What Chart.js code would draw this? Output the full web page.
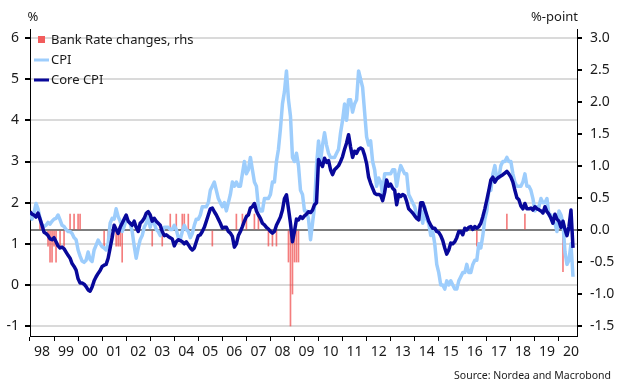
<!DOCTYPE html>
<html>
<head>
<meta charset="utf-8">
<script src="https://cdn.jsdelivr.net/npm/chart.js@4.4.1/dist/chart.umd.min.js"></script>
<style>
  html, body { margin: 0; padding: 0; background: #fff; }
</style>
</head>
<body>
<canvas id="c" width="620" height="392"></canvas>
<script>
// UK inflation vs Bank Rate changes — monthly, Jan 1998 onwards

const yearLabels = ['98', '99', '00', '01', '02', '03', '04', '05', '06', '07', '08',
  '09', '10', '11', '12', '13', '14', '15', '16', '17', '18', '19', '20'];
const leftTicks = [-1, 0, 1, 2, 3, 4, 5, 6];
const rightTicks = [-1.5, -1.0, -0.5, 0.0, 0.5, 1.0, 1.5, 2.0, 2.5, 3.0];

// CPI, % y/y, one value per month from Jan 1998
const cpi = [
  1.75, 1.6, 1.75, 1.98, 1.85, 1.62, 1.45, 1.42, 1.45, 1.52, 1.48, 1.55, // 98
  1.6, 1.62, 1.7, 1.58, 1.45, 1.42, 1.35, 1.3, 1.3, 1.25, 1.15, 1.1,     // 99
  0.85, 0.7, 0.58, 0.55, 0.6, 0.8, 0.62, 0.57, 0.85, 0.97, 1.09, 1.0,    // 00
  0.93, 0.9, 0.85, 1.0, 1.5, 1.62, 1.6, 1.85, 1.66, 1.55, 1.3, 1.42,     // 01
  1.6, 1.55, 1.5, 1.3, 0.95, 0.65, 0.9, 1.1, 1.2, 1.4, 1.5, 1.65,        // 02
  1.4, 1.6, 1.5, 1.35, 1.3, 1.2, 1.3, 1.4, 1.4, 1.4, 1.35, 1.35,         // 03
  1.45, 1.35, 1.15, 1.1, 1.3, 1.45, 1.35, 1.3, 1.15, 1.25, 1.45, 1.6,    // 04
  1.6, 1.7, 1.9, 1.9, 1.9, 2.0, 2.3, 2.4, 2.5, 2.3, 2.1, 2.0,            // 05
  1.9, 2.0, 1.8, 2.0, 2.2, 2.5, 2.4, 2.5, 2.4, 2.4, 2.7, 3.0,            // 06
  2.7, 2.8, 3.1, 2.8, 2.5, 2.4, 1.9, 1.8, 1.8, 2.1, 2.1, 2.1,            // 07
  2.2, 2.5, 2.5, 3.0, 3.3, 3.8, 4.4, 4.7, 5.2, 4.5, 4.1, 3.1,            // 08
  3.0, 3.2, 2.9, 2.3, 2.2, 1.8, 1.8, 1.6, 1.1, 1.5, 1.9, 2.9,            // 09
  3.5, 3.0, 3.4, 3.7, 3.4, 3.2, 3.1, 3.1, 3.1, 3.2, 3.3, 3.7,            // 10
  4.0, 4.4, 4.0, 4.5, 4.5, 4.2, 4.4, 4.5, 5.2, 5.0, 4.8, 4.2,            // 11
  3.6, 3.4, 3.5, 3.0, 2.8, 2.4, 2.6, 2.5, 2.2, 2.7, 2.7, 2.7,            // 12
  2.7, 2.8, 2.8, 2.4, 2.7, 2.9, 2.8, 2.7, 2.7, 2.2, 2.1, 2.0,            // 13
  1.9, 1.7, 1.6, 1.8, 1.5, 1.9, 1.6, 1.5, 1.2, 1.3, 1.0, 0.5,            // 14
  0.3, 0.0, 0.0, -0.1, 0.1, 0.0, 0.1, 0.0, -0.1, -0.1, 0.1, 0.2,         // 15
  0.3, 0.3, 0.5, 0.3, 0.3, 0.5, 0.6, 0.6, 1.0, 0.9, 1.2, 1.6,            // 16
  1.8, 2.3, 2.3, 2.7, 2.9, 2.6, 2.6, 2.9, 3.0, 3.0, 3.1, 3.0,            // 17
  3.0, 2.7, 2.5, 2.4, 2.4, 2.4, 2.5, 2.7, 2.4, 2.4, 2.3, 2.1,            // 18
  1.8, 1.9, 1.9, 2.1, 2.0, 2.0, 2.1, 1.7, 1.7, 1.5, 1.5, 1.3,            // 19
  1.8, 1.7, 1.5, 0.8, 0.5, 0.6, 1.0, 0.2,                                // 20
];

// Core CPI, % y/y, same months
const coreCpi = [
  1.78, 1.72, 1.7, 1.65, 1.75, 1.6, 1.45, 1.28, 1.25, 1.2, 1.12, 1.1,
  1.15, 1.05, 0.95, 0.9, 0.92, 0.88, 0.8, 0.72, 0.65, 0.52, 0.45, 0.36,
  0.15, 0.05, 0.05, 0.02, -0.04, -0.12, -0.15, -0.05, 0.1, 0.2, 0.28, 0.35,
  0.45, 0.48, 0.5, 0.65, 0.9, 1.15, 1.45, 1.35, 1.25, 1.4, 1.5, 1.6,
  1.7, 1.55, 1.5, 1.45, 1.55, 1.4, 1.3, 1.5, 1.55, 1.62, 1.74, 1.78,
  1.7, 1.55, 1.62, 1.55, 1.5, 1.45, 1.3, 1.2, 1.22, 1.18, 1.15, 1.12,
  0.95, 1.05, 1.1, 1.08, 1.05, 1.0, 1.05, 0.98, 0.9, 0.85, 0.9, 1.05,
  1.2, 1.22, 1.3, 1.4, 1.55, 1.7, 1.85, 1.87, 1.78, 1.7, 1.6, 1.5,
  1.38, 1.4, 1.4, 1.3, 1.26, 1.18, 0.92, 1.0, 1.2, 1.3, 1.42, 1.55,
  1.66, 1.7, 1.87, 1.9, 1.98, 1.8, 1.7, 1.62, 1.5, 1.46, 1.4, 1.36,
  1.3, 1.26, 1.3, 1.45, 1.55, 1.65, 1.82, 2.1, 2.19, 1.85, 1.5, 1.05,
  1.3, 1.6, 1.58, 1.66, 1.62, 1.68, 1.72, 1.78, 1.76, 1.82, 1.95, 2.0,
  3.05, 2.95, 2.88, 3.08, 2.98, 3.02, 2.8, 2.68, 2.8, 2.85, 2.9, 3.0,
  3.12, 3.3, 3.45, 3.65, 3.35, 3.1, 3.25, 3.2, 3.3, 3.33, 3.3, 3.15,
  2.95, 2.62, 2.47, 2.35, 2.23, 2.2, 2.2, 2.18, 2.05, 2.25, 2.55, 2.4,
  2.45, 2.35, 2.3, 1.95, 2.2, 2.15, 2.2, 2.17, 2.03, 1.85, 1.8, 1.75,
  1.68, 1.62, 1.58, 2.0, 2.0, 1.85, 1.7, 1.55, 1.45, 1.38, 1.38, 1.3,
  1.28, 1.2, 1.08, 0.9, 0.75, 0.85, 1.02, 1.0, 1.05, 1.15, 1.3, 1.3,
  1.22, 1.38, 1.34, 1.4, 1.42, 1.35, 1.42, 1.38, 1.42, 1.5, 1.66, 1.85,
  2.07, 2.3, 2.55, 2.62, 2.5, 2.58, 2.62, 2.65, 2.68, 2.72, 2.76, 2.7,
  2.62, 2.5, 2.3, 2.12, 2.07, 1.92, 1.85, 1.98, 1.85, 1.85, 1.87, 1.82,
  1.9, 1.85, 1.83, 1.8, 1.75, 1.9, 1.78, 1.72, 1.62, 1.5, 1.72, 1.6,
  1.55, 1.4, 1.55, 1.35, 1.2, 1.42, 1.82, 0.9,
];

// Bank Rate changes, %-points (rhs)
const rateMonths = [
  '1998-06', '1998-10', '1998-11', '1998-12',
  '1999-01', '1999-02', '1999-04', '1999-06', '1999-09', '1999-11',
  '2000-01', '2000-02',
  '2001-02', '2001-04', '2001-05', '2001-08', '2001-09', '2001-10', '2001-11',
  '2003-02', '2003-07', '2003-11',
  '2004-02', '2004-05', '2004-06', '2004-08',
  '2005-08',
  '2006-08', '2006-11',
  '2007-01', '2007-05', '2007-07', '2007-12',
  '2008-02', '2008-04', '2008-10', '2008-11', '2008-12',
  '2009-01', '2009-02', '2009-03',
  '2016-08', '2017-11', '2018-08', '2020-03',
];
const rateChanges = [
  0.25, -0.25, -0.5, -0.5,
  -0.25, -0.5, -0.25, -0.25, 0.25, 0.25,
  0.25, 0.25,
  -0.25, -0.25, -0.25, -0.25, -0.25, -0.25, -0.5,
  -0.25, -0.25, 0.25,
  0.25, 0.25, 0.25, 0.25,
  -0.25,
  0.25, 0.25,
  0.25, 0.25, 0.25, -0.25,
  -0.25, -0.25, -0.5, -1.5, -1.0,
  -0.5, -0.5, -0.5,
  -0.25, 0.25, 0.25, -0.65,
];

const START_YEAR = 1998;
const FONT = "'Noto Sans', 'Open Sans', sans-serif";
const TEXT = '#1a1a1a';
const COLORS = {
  cpi: '#9dcdfc',
  core: '#08089a',
  rate: 'rgba(240,70,70,0.7)',
  rateBox: '#f25c5c',
  grid: '#dadada',
  zero: '#7f7f7f',
};

const monthToX = (i) => START_YEAR + i / 12;
const ymToX = (s) => {
  const [y, m] = s.split('-').map(Number);
  return y + (m - 1) / 12;
};

const cpiPts = cpi.map((v, i) => ({ x: monthToX(i), y: v }));
const corePts = coreCpi.map((v, i) => ({ x: monthToX(i), y: v }));
const ratePts = rateMonths.map((s, i) => ({ x: ymToX(s), y: rateChanges[i] }));

// texto extra: títulos dos eixos, fonte e legenda dentro da área
const extraText = {
  id: 'extraText',
  afterDraw(chart) {
    const { ctx, chartArea } = chart;
    ctx.save();
    ctx.fillStyle = TEXT;
    ctx.textBaseline = 'middle';
    ctx.font = '13px ' + FONT;
    ctx.textAlign = 'center';
    ctx.fillText('%', 33, 17);
    ctx.textAlign = 'right';
    ctx.fillText('%-point', chartArea.right + 1, 17);
    ctx.font = '10.5px ' + FONT;
    ctx.fillText('Source: Nordea and Macrobond', 611, 376);

    // legenda
    const items = [
      { label: 'Bank Rate changes, rhs', kind: 'box', color: COLORS.rateBox },
      { label: 'CPI', kind: 'line', color: COLORS.cpi },
      { label: 'Core CPI', kind: 'line', color: COLORS.core },
    ];
    ctx.font = '13px ' + FONT;
    ctx.textAlign = 'left';
    items.forEach((it, i) => {
      const y = 40 + i * 20;
      if (it.kind === 'box') {
        ctx.fillStyle = it.color;
        ctx.fillRect(38, y - 4, 7, 7);
      } else {
        ctx.strokeStyle = it.color;
        ctx.lineWidth = 3;
        ctx.beginPath();
        ctx.moveTo(34, y);
        ctx.lineTo(49, y);
        ctx.stroke();
      }
      ctx.fillStyle = TEXT;
      ctx.fillText(it.label, 51, y);
    });
    ctx.restore();
  },
};

new Chart(document.getElementById('c'), {
  type: 'line',
  data: {
    datasets: [
      {
        label: 'Core CPI',
        data: corePts,
        borderColor: COLORS.core,
        borderWidth: 3.5,
        pointRadius: 0,
        tension: 0,
        borderJoinStyle: 'round',
        yAxisID: 'y',
        order: 0,
      },
      {
        label: 'CPI',
        data: cpiPts,
        borderColor: COLORS.cpi,
        borderWidth: 3.5,
        pointRadius: 0,
        tension: 0,
        borderJoinStyle: 'round',
        yAxisID: 'y',
        order: 1,
      },
      {
        type: 'bar',
        label: 'Bank Rate changes, rhs',
        data: ratePts,
        backgroundColor: COLORS.rate,
        barThickness: 1,
        yAxisID: 'y1',
        order: 2,
      },
    ],
  },
  options: {
    responsive: false,
    animation: false,
    events: [],
    layout: { padding: { top: 29, left: 0, right: 0, bottom: 0 } },
    plugins: { legend: { display: false }, tooltip: { enabled: false } },
    scales: {
      x: {
        type: 'linear',
        min: START_YEAR,
        max: 2020.75,
        offset: false,
        afterBuildTicks: (axis) => {
          axis.ticks = yearLabels.map((_, i) => ({ value: START_YEAR + i + 0.5 }));
        },
        afterFit: (axis) => { axis.height = 56; },
        grid: {
          offset: true,
          drawOnChartArea: false,
          drawTicks: true,
          tickLength: 5,
          tickColor: '#000',
        },
        border: { display: true, color: '#000', width: 1 },
        ticks: {
          autoSkip: false,
          maxRotation: 0,
          padding: 3,
          color: TEXT,
          font: { family: FONT, size: 14 },
          callback: (v, i) => yearLabels[i],
        },
      },
      y: {
        position: 'left',
        min: -1.24,
        max: 6.22,
        afterBuildTicks: (axis) => {
          axis.ticks = leftTicks.map(v => ({ value: v }));
        },
        afterFit: (axis) => { axis.width = 30; },
        grid: {
          color: COLORS.grid,
          lineWidth: 2,
          tickLength: 5,
          tickColor: '#000',
        },
        border: { display: true, color: '#000', width: 1 },
        ticks: {
          padding: 6,
          color: TEXT,
          font: { family: FONT, size: 14 },
          callback: (v) => String(v),
        },
      },
      y1: {
        position: 'right',
        min: -1.656,
        max: 3.143,
        afterBuildTicks: (axis) => {
          axis.ticks = rightTicks.map(v => ({ value: v }));
        },
        afterFit: (axis) => { axis.width = 43; },
        grid: {
          color: (c) => (c.tick && c.tick.value === 0 ? COLORS.zero : 'rgba(0,0,0,0)'),
          lineWidth: 2,
          tickLength: 5,
          tickColor: '#000',
        },
        border: { display: true, color: '#000', width: 1 },
        ticks: {
          padding: 8,
          color: TEXT,
          font: { family: FONT, size: 14 },
          callback: (v) => v.toFixed(1),
        },
      },
    },
  },
  plugins: [extraText],
});
</script>
</body>
</html>
